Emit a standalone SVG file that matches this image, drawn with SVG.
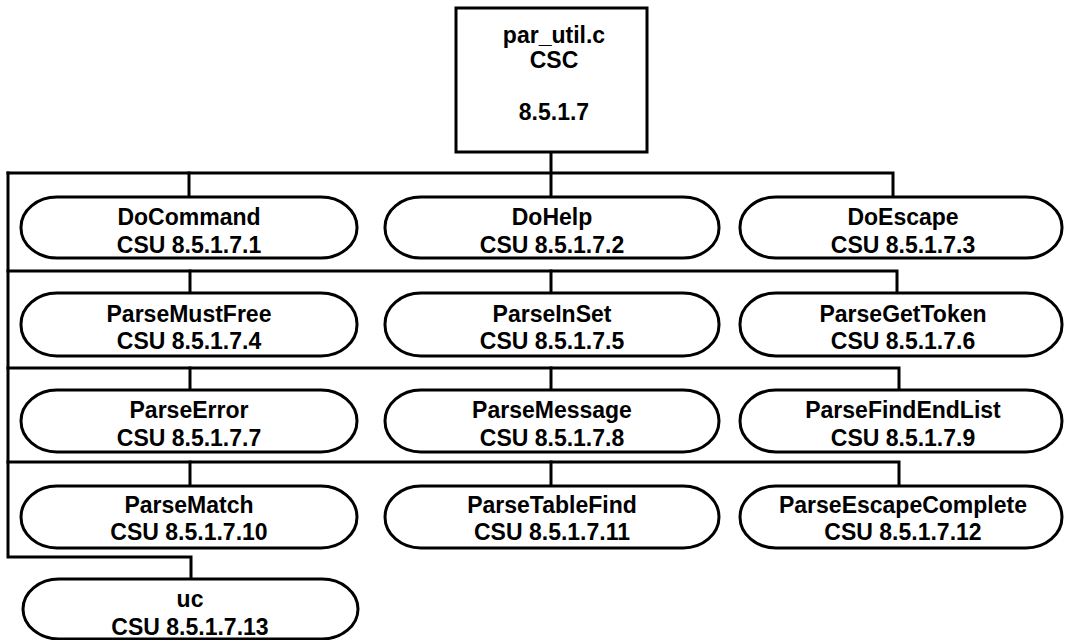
<svg xmlns="http://www.w3.org/2000/svg" width="1066" height="640" viewBox="0 0 1066 640">
<style>
.box{fill:#fff;stroke:#000;stroke-width:3}
.ln{fill:none;stroke:#000;stroke-width:3;stroke-linecap:square}
text{font-family:"Liberation Sans",Arial,Helvetica,sans-serif;font-weight:bold;font-size:23px;fill:#000;text-anchor:middle}
</style>
<rect x="0" y="0" width="1066" height="640" fill="#fff"/>
<g id="connectors">
<path class="ln" d="M551 152 V197"/>
<path class="ln" d="M8 173 H893 V197"/>
<path class="ln" d="M189 173 V197"/>
<path class="ln" d="M8 173 V557 H191 V579"/>
<path class="ln" d="M8 271 H897 V293"/>
<path class="ln" d="M190 271 V293"/>
<path class="ln" d="M551 271 V293"/>
<path class="ln" d="M8 368 H899 V390"/>
<path class="ln" d="M190 368 V390"/>
<path class="ln" d="M551 368 V390"/>
<path class="ln" d="M8 462 H899 V486"/>
<path class="ln" d="M190 462 V486"/>
<path class="ln" d="M551 462 V486"/>
</g>
<g id="par_util">
<rect class="box" x="456" y="8" width="191" height="144"/>
<text x="554" y="43">par_util.c</text>
<text x="554" y="68">CSC</text>
<text x="554" y="120">8.5.1.7</text>
</g>
<g id="DoCommand">
<rect class="box" x="21" y="197" width="336" height="61" rx="36" ry="30"/>
<text x="189" y="225">DoCommand</text>
<text x="189" y="253">CSU 8.5.1.7.1</text>
</g>
<g id="DoHelp">
<rect class="box" x="385" y="197" width="334" height="61" rx="36" ry="30"/>
<text x="552" y="225">DoHelp</text>
<text x="552" y="253">CSU 8.5.1.7.2</text>
</g>
<g id="DoEscape">
<rect class="box" x="740" y="197" width="322" height="61" rx="36" ry="30"/>
<text x="903" y="225">DoEscape</text>
<text x="903" y="253">CSU 8.5.1.7.3</text>
</g>
<g id="ParseMustFree">
<rect class="box" x="21" y="293" width="336" height="63" rx="36" ry="31"/>
<text x="189" y="322">ParseMustFree</text>
<text x="189" y="349">CSU 8.5.1.7.4</text>
</g>
<g id="ParseInSet">
<rect class="box" x="385" y="293" width="334" height="63" rx="36" ry="31"/>
<text x="552" y="322">ParseInSet</text>
<text x="552" y="349">CSU 8.5.1.7.5</text>
</g>
<g id="ParseGetToken">
<rect class="box" x="740" y="293" width="322" height="63" rx="36" ry="31"/>
<text x="903" y="322">ParseGetToken</text>
<text x="903" y="349">CSU 8.5.1.7.6</text>
</g>
<g id="ParseError">
<rect class="box" x="21" y="390" width="336" height="62" rx="36" ry="31"/>
<text x="189" y="418">ParseError</text>
<text x="189" y="446">CSU 8.5.1.7.7</text>
</g>
<g id="ParseMessage">
<rect class="box" x="385" y="390" width="334" height="62" rx="36" ry="31"/>
<text x="552" y="418">ParseMessage</text>
<text x="552" y="446">CSU 8.5.1.7.8</text>
</g>
<g id="ParseFindEndList">
<rect class="box" x="740" y="390" width="322" height="62" rx="36" ry="31"/>
<text x="903" y="418">ParseFindEndList</text>
<text x="903" y="446">CSU 8.5.1.7.9</text>
</g>
<g id="ParseMatch">
<rect class="box" x="21" y="486" width="336" height="62" rx="36" ry="31"/>
<text x="189" y="513">ParseMatch</text>
<text x="189" y="540">CSU 8.5.1.7.10</text>
</g>
<g id="ParseTableFind">
<rect class="box" x="385" y="486" width="334" height="62" rx="36" ry="31"/>
<text x="552" y="513">ParseTableFind</text>
<text x="552" y="540">CSU 8.5.1.7.11</text>
</g>
<g id="ParseEscapeComplete">
<rect class="box" x="740" y="486" width="322" height="62" rx="36" ry="31"/>
<text x="903" y="513">ParseEscapeComplete</text>
<text x="903" y="540">CSU 8.5.1.7.12</text>
</g>
<g id="uc">
<rect class="box" x="23" y="579" width="335" height="60" rx="36" ry="30"/>
<text x="190" y="607">uc</text>
<text x="190" y="635">CSU 8.5.1.7.13</text>
</g>
</svg>
